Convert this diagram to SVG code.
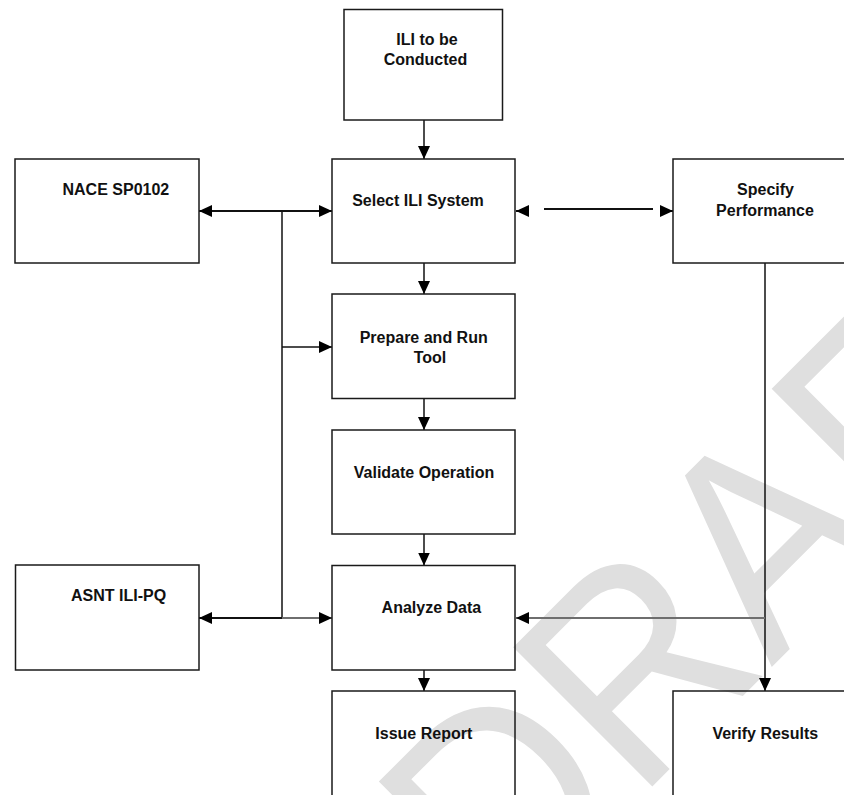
<svg xmlns="http://www.w3.org/2000/svg" width="844" height="795" viewBox="0 0 844 795">
<style>
.box{fill:none;stroke:#1a1a1a;stroke-width:1.5}
.lbl{font-family:"Liberation Sans",Arial,sans-serif;font-weight:bold;font-size:16px;fill:#111}
.c{text-anchor:middle}
.ln{fill:none;stroke:#111;stroke-width:1.5}
.lnb{fill:none;stroke:#111;stroke-width:2}
.lng{fill:none;stroke:#6e6e6e;stroke-width:2}
.wm{font-family:"Liberation Sans",Arial,sans-serif;font-size:286px;fill:#dfdfdf}
</style>
<defs>
<marker id="ah" viewBox="0 0 13 12" markerWidth="13" markerHeight="12" refX="13" refY="6" orient="auto-start-reverse" markerUnits="userSpaceOnUse">
<path d="M0,0 L13,6 L0,12 z" fill="#000"/>
</marker>
</defs>
<rect width="844" height="795" fill="#fff"/>
<g id="watermark">
<text class="wm" transform="translate(502.7,936) rotate(-45) scale(0.92,1)">DRAFT</text>
</g>
<g id="connectors">
<line class="ln" x1="424" y1="120" x2="424" y2="159" marker-end="url(#ah)"/>
<line class="ln" x1="424" y1="263" x2="424" y2="294" marker-end="url(#ah)"/>
<line class="ln" x1="424" y1="398.5" x2="424" y2="430" marker-end="url(#ah)"/>
<line class="ln" x1="424" y1="534" x2="424" y2="565.5" marker-end="url(#ah)"/>
<line class="ln" x1="424" y1="670" x2="424" y2="691" marker-end="url(#ah)"/>
<line class="ln" x1="282" y1="211" x2="282" y2="618"/>
<line class="lnb" x1="199" y1="211" x2="332" y2="211" marker-start="url(#ah)" marker-end="url(#ah)"/>
<line class="ln" x1="282" y1="347" x2="332" y2="347" marker-end="url(#ah)"/>
<line class="lnb" x1="282" y1="618" x2="199" y2="618" marker-end="url(#ah)"/>
<line class="lng" x1="282" y1="618" x2="332" y2="618" marker-end="url(#ah)"/>
<line class="lnb" x1="529" y1="211" x2="516" y2="211" marker-end="url(#ah)"/>
<line class="lnb" x1="544" y1="209" x2="653" y2="209"/>
<line class="lnb" x1="660" y1="211" x2="673" y2="211" marker-end="url(#ah)"/>
<line class="ln" x1="765" y1="263" x2="765" y2="691" marker-end="url(#ah)"/>
<line class="lng" x1="765" y1="618" x2="516" y2="618" marker-end="url(#ah)"/>
</g>
<g id="n-ili">
<rect class="box" x="344" y="9.5" width="158.5" height="110.5"/>
<text class="lbl c" x="427" y="44.5">ILI to be</text>
<text class="lbl c" x="425.5" y="64.5">Conducted</text>
</g>
<g id="n-nace">
<rect class="box" x="15" y="159" width="184" height="104"/>
<text class="lbl" x="62.5" y="194.5">NACE SP0102</text>
</g>
<g id="n-select">
<rect class="box" x="332" y="159" width="183" height="104"/>
<text class="lbl c" x="418" y="205.5">Select ILI System</text>
</g>
<g id="n-specify">
<rect class="box" x="673" y="159" width="200" height="104"/>
<text class="lbl c" x="765.5" y="195">Specify</text>
<text class="lbl c" x="765" y="215.5">Performance</text>
</g>
<g id="n-prepare">
<rect class="box" x="332" y="294" width="183" height="104.5"/>
<text class="lbl c" x="423.7" y="343">Prepare and Run</text>
<text class="lbl c" x="430" y="363">Tool</text>
</g>
<g id="n-validate">
<rect class="box" x="332" y="430" width="183" height="104"/>
<text class="lbl c" x="424" y="478">Validate Operation</text>
</g>
<g id="n-analyze">
<rect class="box" x="332" y="565.5" width="183" height="104.5"/>
<text class="lbl c" x="431.4" y="613">Analyze Data</text>
</g>
<g id="n-asnt">
<rect class="box" x="15.5" y="565" width="183.5" height="105"/>
<text class="lbl" x="71" y="600.5">ASNT ILI-PQ</text>
</g>
<g id="n-issue">
<rect class="box" x="332" y="691" width="183" height="120"/>
<text class="lbl c" x="423.8" y="739">Issue Report</text>
</g>
<g id="n-verify">
<rect class="box" x="673" y="691" width="200" height="120"/>
<text class="lbl c" x="765.3" y="739">Verify Results</text>
</g>
</svg>
